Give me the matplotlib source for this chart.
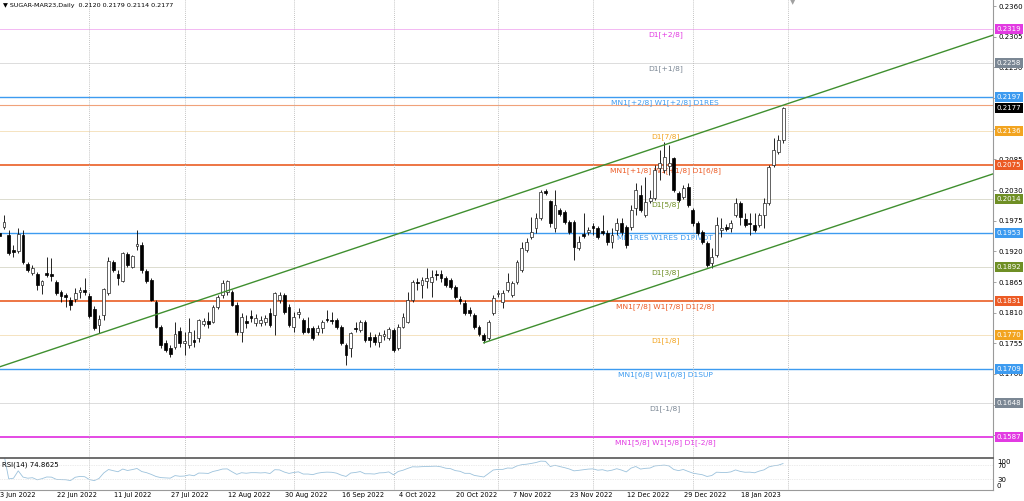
import numpy as np
import pandas as pd
import matplotlib.pyplot as plt

##--------------------------DATA------------------------------##
# SUGAR-MAR23 daily candles (oldest first)
opens = [0.1953, 0.1964, 0.1949, 0.1923, 0.1921, 0.1949, 0.1897, 0.1881, 0.1879, 0.1860,
         0.1881, 0.1879, 0.1865, 0.1847, 0.1842, 0.1833, 0.1835, 0.1847, 0.1851, 0.1840,
         0.1817, 0.1788, 0.1806, 0.1845, 0.1901, 0.1879, 0.1867, 0.1915, 0.1892, 0.1930,
         0.1932, 0.1885, 0.1869, 0.1829, 0.1784, 0.1756, 0.1747, 0.1748, 0.1777, 0.1756,
         0.1752, 0.1761, 0.1765, 0.1790, 0.1795, 0.1793, 0.1820, 0.1842, 0.1847, 0.1847,
         0.1824, 0.1775, 0.1795, 0.1804, 0.1792, 0.1792, 0.1793, 0.1809, 0.1806, 0.1833,
         0.1842, 0.1820, 0.1784, 0.1808, 0.1797, 0.1783, 0.1783, 0.1775, 0.1783, 0.1799,
         0.1797, 0.1797, 0.1784, 0.1752, 0.1747, 0.1783, 0.1779, 0.1793, 0.1766, 0.1766,
         0.1757, 0.1768, 0.1765, 0.1779, 0.1747, 0.1784, 0.1793, 0.1833, 0.1865, 0.1860,
         0.1867, 0.1865, 0.1879, 0.1879, 0.1872, 0.1869, 0.1856, 0.1835, 0.1827, 0.1815,
         0.1806, 0.1784, 0.1770, 0.1765, 0.1809, 0.1844, 0.1829, 0.1851, 0.1842, 0.1865,
         0.1887, 0.1923, 0.1946, 0.1962, 0.1980, 0.2028, 0.2010, 0.1962, 0.1994, 0.1991,
         0.1973, 0.1973, 0.1926, 0.1951, 0.1955, 0.1966, 0.1962, 0.1957, 0.1953, 0.1937,
         0.1958, 0.1971, 0.1964, 0.1964, 0.1998, 0.2021, 0.1985, 0.2010, 0.2016, 0.2070,
         0.2066, 0.2073, 0.2087, 0.2025, 0.2018, 0.2036, 0.1994, 0.1971, 0.1955, 0.1935,
         0.1899, 0.1914, 0.1958, 0.1964, 0.1962, 0.1985, 0.2007, 0.1978, 0.1971, 0.1967,
         0.1967, 0.1985, 0.2007, 0.2075, 0.2098, 0.2120]
highs = [0.1958, 0.1985, 0.1958, 0.1932, 0.1962, 0.1958, 0.1901, 0.1896, 0.1883, 0.1869,
         0.1910, 0.1908, 0.1869, 0.1851, 0.1845, 0.1838, 0.1854, 0.1856, 0.1872, 0.1845,
         0.1822, 0.1806, 0.1854, 0.1910, 0.1905, 0.1887, 0.1919, 0.1919, 0.1914, 0.1958,
         0.1937, 0.1888, 0.1872, 0.1833, 0.1788, 0.1761, 0.1752, 0.1793, 0.1784, 0.1775,
         0.1801, 0.1779, 0.1799, 0.1801, 0.1811, 0.1824, 0.1842, 0.1869, 0.1869, 0.1851,
         0.1829, 0.1809, 0.1806, 0.1815, 0.1808, 0.1804, 0.1806, 0.1818, 0.1847, 0.1847,
         0.1845, 0.1826, 0.1811, 0.1818, 0.1801, 0.1802, 0.1786, 0.1788, 0.1797, 0.1815,
         0.1811, 0.1801, 0.1788, 0.1756, 0.1775, 0.1793, 0.1797, 0.1797, 0.1775, 0.1772,
         0.1775, 0.1779, 0.1784, 0.1783, 0.1790, 0.1809, 0.1847, 0.1869, 0.1872, 0.1874,
         0.1890, 0.1887, 0.1887, 0.1887, 0.1876, 0.1872, 0.1860, 0.1840, 0.1833, 0.1820,
         0.1809, 0.1788, 0.1774, 0.1797, 0.1842, 0.1851, 0.1851, 0.1881, 0.1867, 0.1905,
         0.1937, 0.1944, 0.1982, 0.1989, 0.2030, 0.2032, 0.2012, 0.2030, 0.1998, 0.1994,
         0.1976, 0.1976, 0.1948, 0.1989, 0.1964, 0.1971, 0.1966, 0.1985, 0.1958, 0.1962,
         0.1980, 0.1980, 0.1967, 0.2003, 0.2043, 0.2039, 0.2053, 0.2030, 0.2075, 0.2102,
         0.2116, 0.2111, 0.2089, 0.2028, 0.2039, 0.2043, 0.1998, 0.1975, 0.1958, 0.1939,
         0.1926, 0.1982, 0.1980, 0.1969, 0.1976, 0.2016, 0.2010, 0.1989, 0.1989, 0.1989,
         0.1989, 0.2016, 0.2075, 0.2123, 0.2129, 0.2179]
lows = [0.1942, 0.1960, 0.1914, 0.1910, 0.1917, 0.1897, 0.1883, 0.1878, 0.1851, 0.1844,
        0.1874, 0.1867, 0.1842, 0.1829, 0.1820, 0.1815, 0.1829, 0.1836, 0.1842, 0.1801,
        0.1779, 0.1774, 0.1797, 0.1842, 0.1883, 0.1860, 0.1865, 0.1892, 0.1890, 0.1923,
        0.1881, 0.1863, 0.1831, 0.1783, 0.1747, 0.1740, 0.1731, 0.1745, 0.1748, 0.1734,
        0.1747, 0.1748, 0.1757, 0.1786, 0.1783, 0.1792, 0.1817, 0.1836, 0.1842, 0.1822,
        0.1770, 0.1757, 0.1783, 0.1793, 0.1786, 0.1786, 0.1788, 0.1784, 0.1770, 0.1827,
        0.1808, 0.1784, 0.1775, 0.1801, 0.1772, 0.1774, 0.1761, 0.1770, 0.1774, 0.1793,
        0.1790, 0.1781, 0.1752, 0.1716, 0.1731, 0.1775, 0.1775, 0.1757, 0.1748, 0.1752,
        0.1748, 0.1761, 0.1761, 0.1740, 0.1743, 0.1783, 0.1792, 0.1829, 0.1851, 0.1836,
        0.1854, 0.1838, 0.1869, 0.1865, 0.1856, 0.1853, 0.1835, 0.1826, 0.1806, 0.1804,
        0.1781, 0.1768, 0.1756, 0.1761, 0.1806, 0.1838, 0.1818, 0.1847, 0.1838, 0.1861,
        0.1883, 0.1919, 0.1942, 0.1953, 0.1976, 0.2021, 0.1964, 0.1955, 0.1983, 0.1969,
        0.1951, 0.1905, 0.1923, 0.1944, 0.1949, 0.1949, 0.1942, 0.1949, 0.1932, 0.1926,
        0.1949, 0.1949, 0.1926, 0.1958, 0.1985, 0.1991, 0.1982, 0.2007, 0.2012, 0.2048,
        0.2061, 0.2057, 0.2027, 0.2009, 0.2014, 0.1999, 0.1966, 0.1949, 0.1933, 0.1892,
        0.1890, 0.1910, 0.1946, 0.1957, 0.1955, 0.1982, 0.1967, 0.1964, 0.1949, 0.1955,
        0.1964, 0.1962, 0.2003, 0.2071, 0.2095, 0.2114]
closes = [0.1948, 0.1973, 0.1917, 0.1919, 0.1951, 0.1901, 0.1887, 0.1890, 0.1860, 0.1867,
          0.1878, 0.1876, 0.1845, 0.1840, 0.1838, 0.1824, 0.1845, 0.1851, 0.1847, 0.1804,
          0.1783, 0.1799, 0.1853, 0.1903, 0.1887, 0.1872, 0.1917, 0.1896, 0.1912, 0.1933,
          0.1887, 0.1867, 0.1833, 0.1784, 0.1752, 0.1743, 0.1736, 0.1772, 0.1756, 0.1759,
          0.1775, 0.1757, 0.1797, 0.1795, 0.1790, 0.1820, 0.1838, 0.1863, 0.1866, 0.1824,
          0.1775, 0.1802, 0.1792, 0.1801, 0.1801, 0.1797, 0.1801, 0.1788, 0.1845, 0.1842,
          0.1811, 0.1788, 0.1802, 0.1811, 0.1775, 0.1775, 0.1765, 0.1783, 0.1793, 0.1797,
          0.1795, 0.1784, 0.1756, 0.1734, 0.1774, 0.1781, 0.1793, 0.1761, 0.1761, 0.1757,
          0.1770, 0.1772, 0.1781, 0.1743, 0.1784, 0.1802, 0.1833, 0.1865, 0.1863, 0.1869,
          0.1872, 0.1874, 0.1878, 0.1872, 0.1860, 0.1856, 0.1838, 0.1831, 0.1809, 0.1809,
          0.1784, 0.1772, 0.1761, 0.1793, 0.1836, 0.1845, 0.1845, 0.1865, 0.1863, 0.1901,
          0.1926, 0.1937, 0.1955, 0.1980, 0.2027, 0.2025, 0.1971, 0.2003, 0.1987, 0.1973,
          0.1955, 0.1928, 0.1937, 0.1948, 0.1958, 0.1962, 0.1946, 0.1953, 0.1937, 0.1949,
          0.1971, 0.1955, 0.1932, 0.1994, 0.2030, 0.1994, 0.2009, 0.2016, 0.2066, 0.2079,
          0.2089, 0.2079, 0.2030, 0.2012, 0.2034, 0.2003, 0.1971, 0.1953, 0.1937, 0.1896,
          0.1910, 0.1967, 0.1962, 0.1960, 0.1971, 0.2007, 0.1982, 0.1967, 0.1969, 0.1958,
          0.1985, 0.2007, 0.2071, 0.2102, 0.2120, 0.2177]

date_labels = ['3 Jun 2022', '22 Jun 2022', '11 Jul 2022', '27 Jul 2022', '12 Aug 2022',
               '30 Aug 2022', '16 Sep 2022', '4 Oct 2022', '20 Oct 2022', '7 Nov 2022',
               '23 Nov 2022', '12 Dec 2022', '29 Dec 2022', '18 Jan 2023']
date_bars = [1, 13, 25, 37, 49, 61, 73, 85, 97, 109, 121, 133, 145, 157]
month_bars = [19, 39, 62, 83, 105, 125, 146, 166]

# murrey math levels
level_prices = [0.2319, 0.2258, 0.2197, 0.2136, 0.2075, 0.2014, 0.1953,
                0.1892, 0.1831, 0.1770, 0.1709, 0.1648, 0.1587]
level_names = ['D1[+2/8]', 'D1[+1/8]', 'MN1[+2/8] W1[+2/8] D1RES', 'D1[7/8]',
               'MN1[+1/8] W1[+1/8] D1[6/8]', 'D1[5/8]', 'MN1RES W1RES D1PIVOT', 'D1[3/8]',
               'MN1[7/8] W1[7/8] D1[2/8]', 'D1[1/8]', 'MN1[6/8] W1[6/8] D1SUP', 'D1[-1/8]',
               'MN1[5/8] W1[5/8] D1[-2/8]']
level_colors = ['#e23be2', '#7b8794', '#3d9bf0', '#f2a420', '#ec5b25', '#6f8f25', '#3d9bf0',
                '#6f8f25', '#ec5b25', '#f2a420', '#3d9bf0', '#7b8794', '#e23be2']
level_line_colors = ['#f3b8f3', '#dcdcdc', '#3d9bf0', '#f5e3c0', '#ec6a35', '#dcdccf', '#3d9bf0',
                     '#dcdccf', '#ec6a35', '#f5e3c0', '#3d9bf0', '#dcdcdc', '#e23be2']
level_widths = [0.7, 0.7, 1.0, 0.7, 1.3, 0.7, 1.0, 0.7, 1.3, 0.7, 1.0, 0.7, 1.3]

last_price = 0.2177
ask_price = 0.2183

# channel lines (bar index, price)
upper_x = [0.16, 209.2]
upper_y = [0.1713, 0.2308]
lower_x = [102, 209.2]
lower_y = [0.1756, 0.2059]

price_ticks = [0.2360, 0.2305, 0.2250, 0.2195, 0.2140, 0.2085, 0.2030, 0.1975,
               0.1920, 0.1865, 0.1810, 0.1755, 0.1700, 0.1645, 0.1590]

##--------------------------FIGURE----------------------------##
fig = plt.figure(figsize=(10.24, 5.01), dpi=100)
ax = fig.add_axes([0, 44/501, 993/1024, 457/501])
ax_rsi = fig.add_axes([0, 11/501, 993/1024, 32/501])

o = np.array(opens)
h = np.array(highs)
l = np.array(lows)
c = np.array(closes)
x = np.arange(len(o))
up = c >= o

# levels
for p, lc, lw in zip(level_prices, level_line_colors, level_widths):
    ax.axhline(p, color=lc, lw=lw, zorder=1)
ax.axhline(ask_price, color='#f0a27a', lw=0.8, zorder=1)
for b in month_bars:
    ax.axvline(b, color='#b0b0b0', lw=0.6, ls=(0, (1, 1.5)), zorder=1)
    ax_rsi.axvline(b, color='#b0b0b0', lw=0.6, ls=(0, (1, 1.5)), zorder=1)

for p, name, col in zip(level_prices, level_names, level_colors):
    ax.annotate(name, (140.2, p), xytext=(0, -1.5), textcoords='offset points',
                ha='center', va='top', fontsize=5.4, color=col, zorder=2)

# candles
body_h = np.maximum(np.abs(c - o), 0.00006)
ax.vlines(x, l, h, color='black', lw=0.6, zorder=3)
ax.bar(x[up], body_h[up], bottom=o[up], width=0.62, color='white', edgecolor='#222222',
       linewidth=0.5, zorder=4)
ax.bar(x[~up], body_h[~up], bottom=c[~up], width=0.62, color='black', edgecolor='black',
       linewidth=0.5, zorder=4)

# channel
ax.plot(upper_x, upper_y, color='#3f8f2f', lw=1.0, zorder=5)
ax.plot(lower_x, lower_y, color='#3f8f2f', lw=1.0, zorder=5)

ax.set_xlim(0.16, 209.2)
ax.set_ylim(0.1551, 0.2371)
ax.set_xticks([])
ax.yaxis.tick_right()
ax.set_yticks(price_ticks)
ax.set_yticklabels(['%.4f' % t for t in price_ticks])
ax.tick_params(axis='y', labelsize=5, length=2, width=0.5, color='#808080', pad=2)
for s in ['top', 'left', 'bottom']:
    ax.spines[s].set_visible(False)
ax.spines['right'].set_color('#9a9a9a')
ax.spines['right'].set_linewidth(0.8)

# price tags on the right
tags = list(zip(level_prices, level_colors)) + [(last_price, 'black')]
for p, col in tags:
    ax.text(1.004, p, '%.4f' % p, transform=ax.get_yaxis_transform(), fontsize=5,
            color='white', va='center', ha='left', clip_on=False, zorder=10,
            bbox=dict(boxstyle='square,pad=0.25', fc=col, ec='none'))

fig.text(0.003, 0.990, '\u25bc SUGAR-MAR23,Daily  0.2120 0.2179 0.2114 0.2177',
         fontsize=4.6, va='center', ha='left')
fig.text(793/1024, 0.996, '\u25bc', fontsize=5, color='#a0a0a0', va='center', ha='center')

##--------------------------RSI-------------------------------##
delta = pd.Series(c).diff()
gain = delta.clip(lower=0).ewm(alpha=1/14, adjust=True).mean()
loss = (-delta.clip(upper=0)).ewm(alpha=1/14, adjust=True).mean()
rsi = 100 - 100 / (1 + gain / loss)

ax_rsi.plot(x, rsi, color='#9cc2dc', lw=0.6)
for lev in [30, 70]:
    ax_rsi.axhline(lev, color='#d8d8d8', lw=0.5, ls=(0, (1, 1.5)))
ax_rsi.set_xlim(0.16, 209.2)
ax_rsi.set_ylim(-3, 90)
ax_rsi.set_yticks([])
ax_rsi.set_xticks([b - 0.84 for b in date_bars])
ax_rsi.set_xticklabels(date_labels, ha='left')
ax_rsi.tick_params(axis='x', labelsize=4.8, length=0, pad=1.5)
ax_rsi.spines['left'].set_visible(False)
ax_rsi.spines['top'].set_color('#555555')
ax_rsi.spines['top'].set_linewidth(1.2)
ax_rsi.spines['right'].set_color('#9a9a9a')
ax_rsi.spines['right'].set_linewidth(0.8)
ax_rsi.spines['bottom'].set_color('#9a9a9a')
ax_rsi.spines['bottom'].set_linewidth(0.8)
ax_rsi.text(0.002, 0.8, 'RSI(14) 74.8625', transform=ax_rsi.transAxes, fontsize=5,
            va='center', ha='left')
for val, yf in [('100', 0.88), ('70', 0.76), ('30', 0.3), ('0', 0.12)]:
    ax_rsi.text(1.004, yf, val, transform=ax_rsi.transAxes, fontsize=5, va='center',
                ha='left', clip_on=False)

plt.savefig('out.png', dpi=100)
